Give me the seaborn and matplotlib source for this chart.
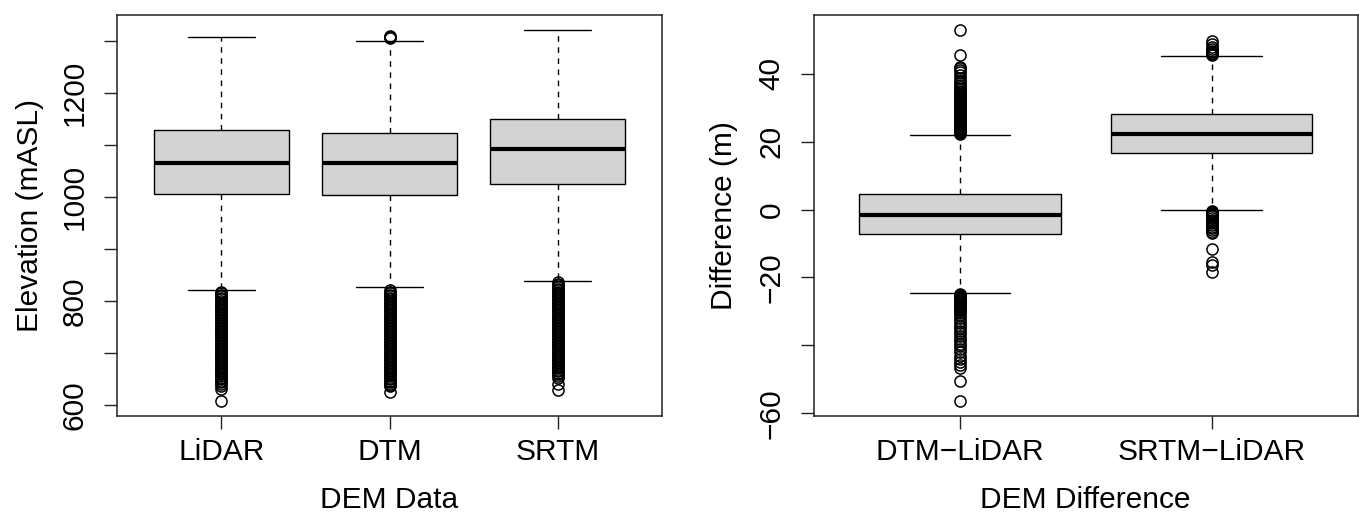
import numpy as np
import pandas as pd
import matplotlib
matplotlib.use("Agg")
import matplotlib.pyplot as plt
import seaborn as sns

# ---------------- data ----------------
elev_groups = ["LiDAR", "DTM", "SRTM"]
elev_q1 = [1005, 1003, 1025]
elev_median = [1066, 1064.5, 1092]
elev_q3 = [1128, 1124, 1150]
elev_whisk_lo = [821, 827, 839]
elev_whisk_hi = [1308, 1300, 1321]
elev_out_lo = [
    [818, 815, 812, 809, 806, 803, 800, 797, 794, 791, 788, 785, 782, 779, 776,
     773, 770, 767, 764, 761, 758, 755, 752, 749, 746, 743, 740, 737, 734, 731,
     728, 725, 722, 719, 716, 713, 710, 707, 704, 701, 698, 695, 692, 689, 686,
     683, 680, 677, 674, 671, 668, 665, 662, 659, 656, 653, 650, 647, 644, 640,
     636, 631, 607],
    [821, 818, 815, 812, 809, 806, 803, 800, 797, 794, 791, 788, 785, 782, 779,
     776, 773, 770, 767, 764, 761, 758, 755, 752, 749, 746, 743, 740, 737, 734,
     731, 728, 725, 722, 719, 716, 713, 710, 707, 704, 701, 698, 695, 692, 689,
     686, 683, 680, 677, 674, 671, 668, 665, 662, 659, 656, 653, 650, 647, 644,
     641, 638, 636, 625],
    [836, 833, 830, 827, 824, 821, 818, 815, 812, 809, 806, 803, 800, 797, 794,
     791, 788, 785, 782, 779, 776, 773, 770, 767, 764, 761, 758, 755, 752, 749,
     746, 743, 740, 737, 734, 731, 728, 725, 722, 719, 716, 713, 710, 707, 704,
     701, 698, 695, 692, 689, 686, 683, 680, 677, 674, 671, 668, 665, 662, 659,
     655, 652, 640, 629],
]
elev_out_hi = [[], [1306, 1308, 1310], []]

diff_groups = ["DTM\u2212LiDAR", "SRTM\u2212LiDAR"]
diff_q1 = [-7.1, 16.8]
diff_median = [-1.5, 22.4]
diff_q3 = [4.6, 28.2]
diff_whisk_lo = [-24.5, -0.2]
diff_whisk_hi = [21.9, 45.1]
diff_out_lo = [
    [-24.8, -25.1, -25.4, -25.7, -26.0, -26.3, -26.6, -26.9, -27.2, -27.5, -27.8,
     -28.1, -28.4, -28.7, -29.0, -29.3, -29.6, -30.0, -30.6, -31.2, -32.0, -32.8,
     -33.5, -34.2, -35.0, -35.8, -36.5, -37.2, -38.0, -38.8, -39.5, -40.2, -41.0,
     -42.0, -43.0, -44.0, -45.0, -45.8, -46.6, -50.5, -56.4],
    [-0.4, -0.7, -1.0, -1.3, -1.6, -2.0, -2.5, -3.0, -3.5, -4.0, -4.5, -5.0, -5.5,
     -6.0, -6.5, -7.0, -11.7, -15.4, -16.4, -18.3],
]
diff_out_hi = [
    [22.3, 22.6, 22.9, 23.2, 23.5, 23.8, 24.1, 24.4, 24.7, 25.0, 25.3, 25.6, 25.9,
     26.2, 26.5, 26.8, 27.1, 27.4, 27.7, 28.0, 28.3, 28.6, 28.9, 29.2, 29.5, 29.8,
     30.1, 30.4, 30.7, 31.0, 31.3, 31.6, 31.9, 32.2, 32.5, 32.8, 33.1, 33.4, 33.7,
     34.0, 34.5, 35.0, 35.5, 36.0, 36.6, 37.2, 38.0, 38.8, 39.6, 40.4, 41.0, 41.6,
     42.1, 45.6, 52.9],
    [45.4, 45.7, 46.0, 46.4, 46.8, 47.3, 48.0, 48.8, 49.5],
]

# Build a sample per group whose quartiles/whiskers equal the read statistics
REP = 150


def build(groups, q1, med, q3, wlo, whi, olo, ohi):
    rows = []
    for i, g in enumerate(groups):
        vals = (list(olo[i]) + [wlo[i]] + [q1[i]] * REP + [med[i]] * REP
                + [q3[i]] * REP + [whi[i]] + list(ohi[i]))
        rows += [(g, v) for v in vals]
    return pd.DataFrame(rows, columns=["group", "value"])


df_elev = build(elev_groups, elev_q1, elev_median, elev_q3,
                elev_whisk_lo, elev_whisk_hi, elev_out_lo, elev_out_hi)
df_diff = build(diff_groups, diff_q1, diff_median, diff_q3,
                diff_whisk_lo, diff_whisk_hi, diff_out_lo, diff_out_hi)

# ---------------- style ----------------
sns.set_style("ticks")
plt.rcParams["font.family"] = ["Liberation Sans", "DejaVu Sans"]
plt.rcParams["axes.linewidth"] = 1.1
plt.rcParams["axes.edgecolor"] = "#222222"
plt.rcParams["text.color"] = "black"
plt.rcParams["axes.labelcolor"] = "black"
plt.rcParams["xtick.color"] = "black"
plt.rcParams["ytick.color"] = "black"

W, H = 1359, 517
fig = plt.figure(figsize=(W / 100, H / 100), dpi=100)
ax1 = fig.add_axes([117 / W, (H - 416) / H, 545 / W, 401 / H])
ax2 = fig.add_axes([814 / W, (H - 416) / H, 543.5 / W, 401 / H])

box_kw = dict(
    color="#D3D3D3", saturation=1, width=0.8, linecolor="black", linewidth=1,
    whis=1.5, fliersize=8,
    whiskerprops=dict(linestyle=(0, (4, 4)), linewidth=1, color="black"),
    capprops=dict(linewidth=1, color="black"),
    medianprops=dict(linewidth=3, color="black"),
    flierprops=dict(marker="o", markerfacecolor="none", markeredgecolor="black",
                    markeredgewidth=1.1),
)

sns.boxplot(data=df_elev, x="group", y="value", order=elev_groups, ax=ax1, **box_kw)
sns.boxplot(data=df_diff, x="group", y="value", order=diff_groups, ax=ax2, **box_kw)

FS = 21.5
for ax in (ax1, ax2):
    for s in ax.spines.values():
        s.set_visible(True)
    ax.tick_params(axis="both", length=9.5, width=1, color="#222222",
                   labelsize=FS, labelcolor="black")
    ax.tick_params(axis="y", pad=11)
    ax.tick_params(axis="x", pad=6)

# left panel
ax1.set_xlim(-0.62, 2.62)
ax1.set_ylim(579, 1350)
ax1.set_yticks([600, 700, 800, 900, 1000, 1100, 1200, 1300])
ax1.set_yticklabels(["600", "", "800", "", "1000", "", "1200", ""],
                    rotation=90, va="center")
ax1.set_xlabel("DEM Data", fontsize=FS)
ax1.set_ylabel("Elevation (mASL)", fontsize=FS)

# right panel
ax2.set_xlim(-0.58, 1.58)
ax2.set_ylim(-60.8, 57.3)
ax2.set_yticks([-60, -40, -20, 0, 20, 40])
ax2.set_yticklabels(["\u221260", "", "\u221220", "0", "20", "40"],
                    rotation=90, va="center")
ax2.set_xlabel("DEM Difference", fontsize=FS)
ax2.set_ylabel("Difference (m)", fontsize=FS)

for ax, ylx in ((ax1, -0.160), (ax2, -0.165)):
    ax.xaxis.set_label_coords(0.5, -0.209)
    ax.xaxis.label.set_verticalalignment("center")
    ax.yaxis.set_label_coords(ylx, 0.5)
    ax.yaxis.label.set_verticalalignment("center")
    ax.yaxis.label.set_horizontalalignment("center")

fig.savefig("out.png", dpi=100, facecolor="white")
